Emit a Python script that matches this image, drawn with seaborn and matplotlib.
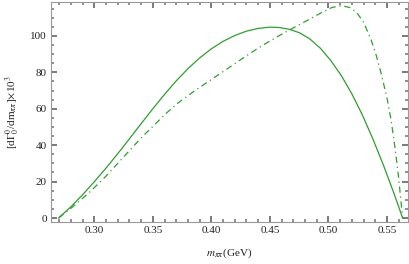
import pandas as pd
import matplotlib
matplotlib.use("Agg")
import matplotlib.pyplot as plt
from matplotlib.ticker import MultipleLocator
import seaborn as sns

# solid curve
m_solid = [0.2695, 0.280, 0.290, 0.300, 0.310, 0.320, 0.330, 0.340, 0.350, 0.360,
           0.370, 0.380, 0.390, 0.400, 0.410, 0.420, 0.430, 0.440, 0.450, 0.458,
           0.466, 0.475, 0.484, 0.493, 0.502, 0.511, 0.520, 0.529, 0.538, 0.547,
           0.556, 0.5634]
g_solid = [0.0, 6.2, 12.8, 19.9, 27.4, 35.3, 43.5, 51.8, 60.0, 67.9,
           75.3, 82.0, 87.9, 92.9, 97.0, 100.2, 102.6, 104.1, 104.8, 104.6,
           103.7, 101.8, 98.4, 93.3, 86.5, 78.2, 68.2, 56.6, 43.4, 29.0,
           13.5, 0.0]

# dot-dashed curve
m_dash = [0.2695, 0.280, 0.2957, 0.310, 0.3243, 0.340, 0.3614, 0.3714, 0.3856, 0.3999,
          0.4142, 0.4284, 0.4427, 0.457, 0.466, 0.4831, 0.4945, 0.503, 0.511, 0.518,
          0.524, 0.530, 0.5364, 0.541, 0.545, 0.550, 0.5535, 0.557, 0.560, 0.5634]
g_dash = [0.0, 5.3, 14.0, 23.0, 33.0, 44.0, 57.5, 63.1, 69.8, 76.0,
          82.2, 88.4, 94.4, 99.8, 103.0, 108.9, 112.9, 115.6, 116.6, 115.6,
          113.0, 107.5, 98.0, 89.0, 79.5, 66.0, 54.0, 38.0, 22.0, 0.0]

df = pd.concat([
    pd.DataFrame({"m": m_solid, "g": g_solid, "curve": "solid"}),
    pd.DataFrame({"m": m_dash, "g": g_dash, "curve": "dotdash"}),
])

sns.set_style("ticks")
plt.rcParams["font.family"] = ["Liberation Serif", "DejaVu Serif"]
plt.rcParams["mathtext.fontset"] = "stix"

fig = plt.figure(figsize=(4.09, 2.64), dpi=100)
ax = fig.add_axes([0.1247, 0.159, 0.8729, 0.8334])

green = "#2f9e2f"
sns.lineplot(data=df, x="m", y="g", style="curve", estimator=None, sort=False,
             dashes={"solid": "", "dotdash": (5, 3, 1, 3)},
             color=green, linewidth=0.9, legend=False, ax=ax)

ax.set_xlim(0.263, 0.568)
ax.set_ylim(-2.2, 118.6)
ax.xaxis.set_major_locator(MultipleLocator(0.05))
ax.xaxis.set_minor_locator(MultipleLocator(0.01))
ax.yaxis.set_major_locator(MultipleLocator(20))
ax.yaxis.set_minor_locator(MultipleLocator(5))
ax.xaxis.set_major_formatter(plt.FormatStrFormatter("%.2f"))

# Mathematica-style frame: inward ticks on all four sides
ax.tick_params(which="both", direction="in", bottom=True, left=True, top=True, right=True,
               color="#707070", labelsize=8, labelcolor="#222222", pad=3)
ax.tick_params(which="major", length=4, width=1.3)
ax.tick_params(which="minor", length=2.2, width=1.1)
for s in ax.spines.values():
    s.set_color("#999999")
    s.set_linewidth(0.8)

ax.set_xlabel(r"$m_{\pi\pi}$(GeV)", fontsize=8, color="#222222", labelpad=8)
ax.set_ylabel(r"[d$\Gamma^0_0$/dm$_{\pi\pi}$]$\times$10$^3$", fontsize=8, color="#222222",
              labelpad=6)

fig.savefig("out.png", dpi=100)
